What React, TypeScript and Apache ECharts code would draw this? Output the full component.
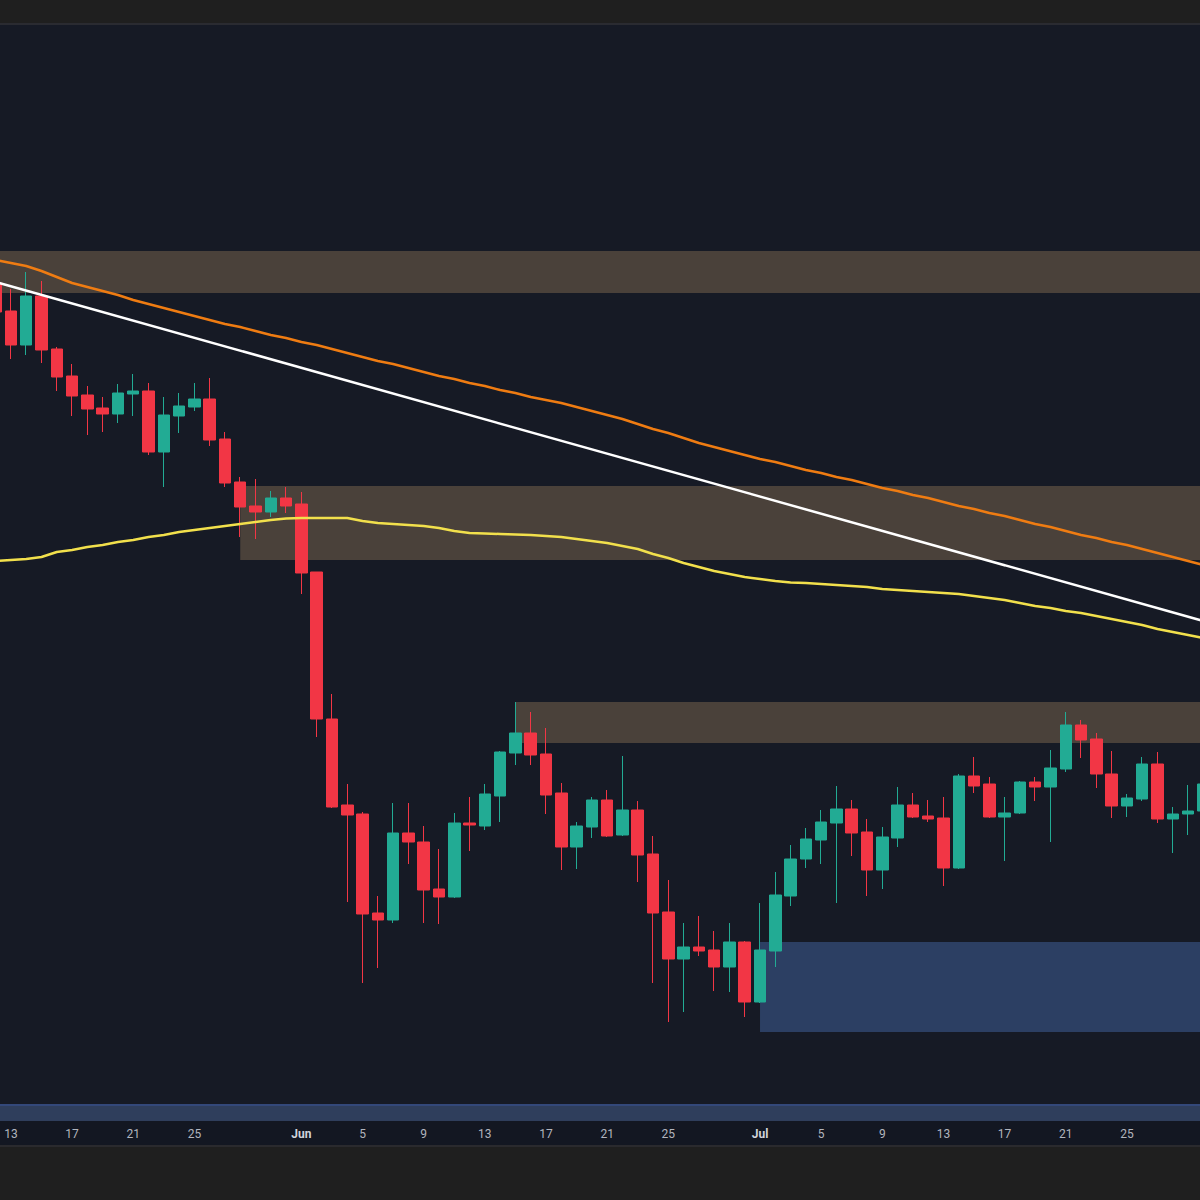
import React, { useEffect, useRef } from "react";
import * as echarts from "echarts";

// Daily categories (May 12 – Jul 30)
const dates: string[] = [
  "05-12","05-13","05-14","05-15","05-16","05-17","05-18","05-19","05-20","05-21",
  "05-22","05-23","05-24","05-25","05-26","05-27","05-28","05-29","05-30","05-31",
  "06-01","06-02","06-03","06-04","06-05","06-06","06-07","06-08","06-09","06-10",
  "06-11","06-12","06-13","06-14","06-15","06-16","06-17","06-18","06-19","06-20",
  "06-21","06-22","06-23","06-24","06-25","06-26","06-27","06-28","06-29","06-30",
  "07-01","07-02","07-03","07-04","07-05","07-06","07-07","07-08","07-09","07-10",
  "07-11","07-12","07-13","07-14","07-15","07-16","07-17","07-18","07-19","07-20",
  "07-21","07-22","07-23","07-24","07-25","07-26","07-27","07-28","07-29","07-30",
];

const monthNames: Record<string, string> = { "05": "May", "06": "Jun", "07": "Jul" };
const tickDays: number[] = [1, 5, 9, 13, 17, 21, 25];

// OHLC values
const opens: number[] = [
  1717,1689,1655,1704,1651,1624,1605,1592,1586,1606,
  1609,1548,1584,1593,1601,1561,1518,1494,1488,1502,
  1496,1428,1281,1195,1186,1087,1080,1167,1158,1111,
  1103,1177,1174,1204,1247,1267,1246,1207,1153,1173,
  1200,1165,1190,1146,1088,1041,1053,1050,1033,1058,
  998,1049,1104,1141,1160,1177,1191,1168,1130,1162,
  1195,1184,1182,1132,1224,1216,1183,1187,1218,1213,
  1231,1275,1261,1226,1194,1201,1236,1181,1186,1189,
];
const closes: number[] = [
  1688,1655,1704,1650,1623,1604,1591,1586,1607,1609,
  1548,1585,1594,1601,1560,1517,1493,1488,1502,1494,
  1427,1281,1193,1185,1086,1080,1167,1158,1110,1103,
  1177,1175,1206,1248,1267,1245,1205,1153,1174,1200,
  1164,1190,1145,1087,1041,1053,1049,1033,1058,998,
  1050,1105,1141,1161,1178,1191,1167,1130,1163,1195,
  1183,1181,1132,1224,1214,1183,1187,1218,1213,1232,
  1275,1260,1226,1194,1202,1236,1181,1186,1189,1216,
];
const lows: number[] = [
  1682,1641,1645,1637,1609,1584,1565,1568,1577,1584,
  1545,1513,1567,1589,1554,1513,1463,1461,1483,1487,
  1406,1263,1192,1098,1017,1032,1077,1136,1077,1076,
  1102,1149,1170,1178,1235,1235,1186,1130,1131,1162,
  1163,1164,1118,1017,978,988,1044,1009,1008,983,
  997,1033,1094,1132,1136,1097,1144,1104,1111,1153,
  1182,1178,1114,1131,1207,1182,1139,1186,1199,1158,
  1228,1242,1212,1182,1183,1199,1177,1147,1165,1188,
];
const highs: number[] = [
  1722,1711,1728,1719,1653,1636,1614,1603,1616,1626,
  1617,1603,1607,1617,1622,1568,1523,1521,1509,1513,
  1508,1428,1306,1216,1188,1104,1197,1197,1174,1151,
  1187,1203,1216,1249,1298,1288,1272,1217,1178,1203,
  1210,1244,1199,1164,1120,1077,1084,1069,1077,1059,
  1097,1128,1155,1172,1190,1214,1200,1181,1173,1213,
  1207,1200,1203,1226,1243,1223,1203,1219,1223,1250,
  1288,1280,1267,1249,1206,1243,1248,1193,1215,1220,
];

// Moving averages
const maFast: number[] = [
  1439,1440,1441,1443,1448,1450,1453,1455,1458,1460,
  1463,1465,1468,1470,1472,1474,1476,1478,1480,1481.5,
  1482,1482,1482,1482,1479,1477,1476,1475,1474,1472,
  1469,1467,1466.5,1466,1465.5,1465,1464,1463,1461,1459,
  1457,1454,1451,1446,1442,1437,1433,1429,1426,1423,
  1421,1419,1417.5,1417,1416,1415,1414,1413,1411,1410,
  1409,1408,1407,1406,1404,1402,1400,1397,1394,1392,
  1389,1387,1384,1381,1378,1375,1371,1368,1365,1362,
];
const maSlow: number[] = [
  1740,1737,1734,1729,1723,1717,1713,1709,1705,1700,
  1696,1692,1688,1684,1680,1676,1673,1669,1665,1662,
  1658,1655,1651,1647,1643,1639,1636,1632,1628,1624,
  1621,1617,1614,1610,1607,1603,1600,1597,1593,1589,
  1585,1581,1576,1571,1567,1562,1557,1553,1549,1545,
  1541,1538,1534,1530,1527,1523,1520,1516,1512,1509,
  1505,1502,1498,1494,1491,1487,1484,1480,1476,1473,
  1469,1465,1462,1458,1455,1451,1447,1443,1439,1435,
];

// Descending trendline endpoints
const trendStart: [string, number] = ["05-12", 1718];
const trendEnd: [string, number] = ["07-30", 1379];

// Zones: [fromDate, toDate, top, bottom]
const resistanceZones: [string, string, number, number][] = [
  ["05-12", "07-30", 1749, 1707],
  ["05-28", "07-30", 1514, 1440],
  ["06-15", "07-30", 1298, 1257],
];
const supportZones: [string, string, number, number][] = [
  ["07-01", "07-30", 1058, 968],
];

const Y_MIN = 879;
const Y_MAX = 1975;

// The plot is a little wider than the page: first and last candles are cut in half
const CHART_LEFT = -12;
const CHART_WIDTH = 1223;

export default function App() {
  const ref = useRef<HTMLDivElement>(null);

  useEffect(() => {
    if (!ref.current) return;
    const chart = echarts.init(ref.current, undefined, { renderer: "svg", width: CHART_WIDTH, height: 1200 });

    const candleData = dates.map((_, i) => [opens[i], closes[i], lows[i], highs[i]]);

    const zoneData: any[] = [
      ...resistanceZones.map(([f, t, top, bot]) => [
        { xAxis: f, yAxis: top, itemStyle: { color: "#4a413a" } },
        { xAxis: t, yAxis: bot },
      ]),
      ...supportZones.map(([f, t, top, bot]) => [
        { xAxis: f, yAxis: top, itemStyle: { color: "#2c3f63" } },
        { xAxis: t, yAxis: bot },
      ]),
    ];

    const option: any = {
      animation: false,
      backgroundColor: "#161a25",
      grid: { left: 0, right: 0, top: 25, bottom: 79, containLabel: false },
      xAxis: {
        type: "category",
        data: dates,
        boundaryGap: true,
        axisLine: { show: false },
        axisTick: { show: false },
        splitLine: { show: false },
        axisLabel: {
          margin: 7,
          color: "#b2b5be",
          fontSize: 12,
          fontFamily: "Roboto, sans-serif",
          interval: (_idx: number, val: string) => tickDays.includes(parseInt(val.slice(3), 10)),
          formatter: (val: string) => {
            const d = parseInt(val.slice(3), 10);
            return d === 1 ? "{m|" + monthNames[val.slice(0, 2)] + "}" : String(d);
          },
          rich: { m: { color: "#d1d4dc", fontSize: 12, fontWeight: "bold", fontFamily: "Roboto, sans-serif" } },
        },
      },
      yAxis: {
        type: "value",
        min: Y_MIN,
        max: Y_MAX,
        show: false,
        splitLine: { show: false },
      },
      graphic: [
        { type: "rect", left: 0, top: 0, shape: { width: CHART_WIDTH, height: 23 }, style: { fill: "#1f1f1f" }, silent: true },
        { type: "rect", left: 0, top: 23, shape: { width: CHART_WIDTH, height: 2 }, style: { fill: "#2a2b31" }, silent: true },
        { type: "rect", left: 0, top: 1104, shape: { width: CHART_WIDTH, height: 17 }, style: { fill: "#2f3e5c" }, silent: true, z: 5 },
        { type: "rect", left: 0, top: 1104, shape: { width: CHART_WIDTH, height: 2 }, style: { fill: "#33487a" }, silent: true, z: 5 },
        { type: "rect", left: 0, top: 1121, shape: { width: CHART_WIDTH, height: 24 }, style: { fill: "#131722" }, silent: true, z: -1 },
        { type: "rect", left: 0, top: 1145, shape: { width: CHART_WIDTH, height: 2 }, style: { fill: "#2a2a2e" }, silent: true, z: 5 },
        { type: "rect", left: 0, top: 1147, shape: { width: CHART_WIDTH, height: 53 }, style: { fill: "#1f1f1f" }, silent: true, z: 5 },
      ],
      series: [
        {
          type: "line",
          data: [],
          z: 1,
          silent: true,
          markArea: { silent: true, label: { show: false }, data: zoneData },
        },
        {
          type: "candlestick",
          data: candleData,
          z: 3,
          barWidth: 12,
          itemStyle: {
            color: "#22ab94",
            color0: "#f23645",
            borderColor: "#22ab94",
            borderColor0: "#f23645",
            borderWidth: 1,
          },
        },
        {
          type: "line",
          data: maFast,
          z: 4,
          showSymbol: false,
          symbol: "none",
          lineStyle: { color: "#f2e04c", width: 2.5 },
        },
        {
          type: "line",
          data: maSlow,
          z: 4,
          showSymbol: false,
          symbol: "none",
          lineStyle: { color: "#ef7c12", width: 2.5 },
        },
        {
          type: "line",
          data: [trendStart, trendEnd],
          z: 4,
          showSymbol: false,
          symbol: "none",
          lineStyle: { color: "#ffffff", width: 2.5 },
        },
      ],
    };

    chart.setOption(option);
    return () => chart.dispose();
  }, []);

  return (
    <div
      ref={ref}
      style={{ position: "fixed", left: CHART_LEFT, top: 0, width: CHART_WIDTH, height: 1200, overflow: "hidden" }}
    />
  );
}
